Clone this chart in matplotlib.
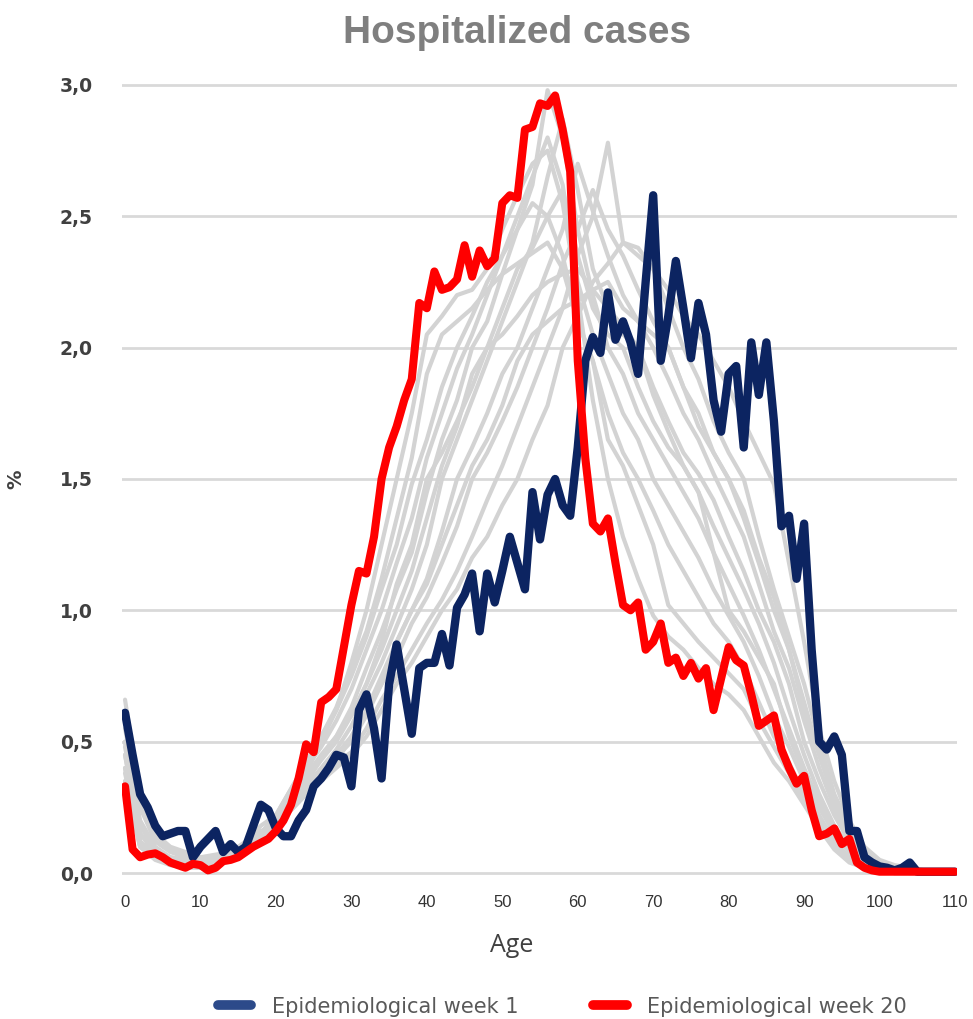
import numpy as np
import matplotlib
matplotlib.use('Agg')
import matplotlib.pyplot as plt
from matplotlib.lines import Line2D
from matplotlib.ticker import FuncFormatter

# Возраст (годы) и доли госпитализированных, %
ages = np.arange(0, 111)

week1 = [0.61, 0.45, 0.30, 0.25, 0.18, 0.14, 0.15, 0.16, 0.16, 0.06,
         0.10, 0.13, 0.16, 0.08, 0.11, 0.08, 0.10, 0.18, 0.26, 0.24,
         0.17, 0.14, 0.14, 0.20, 0.24, 0.33, 0.36, 0.40, 0.45, 0.44,
         0.33, 0.62, 0.68, 0.55, 0.36, 0.72, 0.87, 0.70, 0.53, 0.78,
         0.80, 0.80, 0.91, 0.79, 1.01, 1.06, 1.14, 0.92, 1.14, 1.03,
         1.15, 1.28, 1.18, 1.08, 1.45, 1.27, 1.44, 1.50, 1.40, 1.36,
         1.62, 1.95, 2.04, 1.98, 2.21, 2.03, 2.10, 2.02, 1.90, 2.25,
         2.58, 1.95, 2.12, 2.33, 2.15, 1.96, 2.17, 2.05, 1.80, 1.68,
         1.90, 1.93, 1.62, 2.02, 1.82, 2.02, 1.72, 1.32, 1.36, 1.12,
         1.33, 0.85, 0.50, 0.47, 0.52, 0.45, 0.16, 0.16, 0.06, 0.04,
         0.025, 0.02, 0.01, 0.02, 0.04, 0.005, 0.005, 0.005, 0.005, 0.005, 0.005]

week20 = [0.33, 0.09, 0.06, 0.07, 0.075, 0.06, 0.04, 0.03, 0.02, 0.035,
          0.03, 0.01, 0.02, 0.045, 0.05, 0.06, 0.08, 0.10, 0.115, 0.13,
          0.16, 0.20, 0.26, 0.36, 0.49, 0.46, 0.65, 0.67, 0.70, 0.86,
          1.02, 1.15, 1.14, 1.28, 1.50, 1.62, 1.70, 1.80, 1.88, 2.17,
          2.15, 2.29, 2.22, 2.23, 2.26, 2.39, 2.27, 2.37, 2.31, 2.34,
          2.55, 2.58, 2.57, 2.83, 2.84, 2.93, 2.92, 2.96, 2.83, 2.67,
          1.95, 1.58, 1.33, 1.30, 1.35, 1.18, 1.02, 1.00, 1.03, 0.85,
          0.88, 0.95, 0.80, 0.82, 0.75, 0.80, 0.74, 0.78, 0.62, 0.74,
          0.86, 0.81, 0.79, 0.68, 0.56, 0.58, 0.60, 0.47, 0.40, 0.34,
          0.37, 0.24, 0.14, 0.15, 0.17, 0.11, 0.13, 0.04, 0.02, 0.01,
          0.005, 0.005, 0.005, 0.005, 0.005, 0.005, 0.005, 0.005, 0.005, 0.005, 0.005]

# Промежуточные недели (серые линии), шаг 2 года, значения в сотых долях %
ages_gray = np.arange(0, 111, 2)

gray_weeks = [
    [60, 30, 15, 10, 8, 6, 7, 8, 12, 18,
     22, 25, 30, 35, 40, 45, 52, 62, 72, 80,
     90, 100, 108, 120, 128, 140, 150, 165, 178, 200,
     212, 225, 232, 240, 235, 230, 222, 212, 205, 195,
     185, 172, 160, 148, 118, 88, 55, 35, 20, 10,
     5, 3, 2, 1, 1, 0],
    [55, 25, 12, 8, 6, 5, 6, 7, 10, 15,
     20, 24, 30, 36, 42, 46, 55, 66, 75, 85,
     95, 104, 115, 128, 142, 155, 170, 185, 200, 215,
     235, 250, 278, 240, 238, 230, 215, 200, 188, 172,
     160, 150, 128, 108, 90, 72, 50, 30, 18, 8,
     4, 2, 1, 1, 0, 0],
    [50, 20, 10, 6, 5, 4, 5, 6, 9, 14,
     19, 24, 30, 37, 44, 50, 60, 72, 82, 95,
     105, 118, 132, 150, 160, 172, 185, 200, 215, 232,
     245, 260, 245, 235, 222, 210, 200, 185, 175, 160,
     150, 135, 118, 100, 85, 65, 45, 28, 15, 7,
     3, 2, 1, 0, 0, 0],
    [45, 15, 8, 5, 4, 4, 4, 6, 9, 13,
     18, 24, 31, 38, 45, 52, 62, 75, 88, 100,
     112, 130, 150, 162, 175, 190, 200, 215, 230, 245,
     270, 252, 235, 220, 210, 200, 188, 175, 165, 152,
     140, 128, 110, 92, 78, 58, 40, 25, 13, 6,
     3, 1, 1, 0, 0, 0],
    [40, 12, 7, 5, 4, 3, 4, 5, 8, 12,
     18, 25, 33, 40, 47, 56, 68, 80, 94, 108,
     125, 150, 165, 180, 195, 210, 225, 240, 265, 287,
     260, 230, 215, 208, 200, 185, 172, 160, 152, 142,
     128, 115, 100, 88, 72, 50, 35, 22, 12, 5,
     2, 1, 0, 0, 0, 0],
    [50, 15, 8, 5, 4, 3, 4, 5, 8, 12,
     19, 27, 35, 43, 50, 60, 72, 85, 100, 115,
     135, 155, 170, 190, 200, 215, 230, 238, 250, 260,
     235, 215, 205, 200, 185, 172, 162, 155, 145, 132,
     120, 108, 95, 80, 62, 45, 30, 18, 10, 4,
     2, 1, 0, 0, 0, 0],
    [45, 12, 7, 4, 3, 3, 3, 5, 8, 13,
     20, 28, 37, 45, 52, 63, 78, 92, 108, 122,
     145, 165, 180, 200, 210, 228, 245, 262, 298, 280,
     245, 220, 200, 190, 175, 165, 155, 145, 135, 122,
     110, 98, 85, 70, 55, 40, 27, 16, 8, 4,
     2, 1, 0, 0, 0, 0],
    [40, 10, 6, 4, 3, 2, 3, 5, 9, 14,
     21, 30, 40, 48, 58, 70, 85, 100, 118, 135,
     158, 175, 192, 205, 220, 235, 250, 265, 280, 262,
     225, 205, 190, 175, 165, 150, 140, 130, 120, 108,
     98, 88, 75, 60, 48, 35, 22, 12, 6, 3,
     1, 0, 0, 0, 0, 0],
    [35, 10, 6, 3, 3, 2, 3, 5, 9, 15,
     22, 32, 42, 52, 62, 75, 90, 108, 125, 148,
     165, 185, 200, 212, 225, 235, 245, 255, 250, 235,
     210, 195, 175, 160, 150, 138, 125, 115, 105, 95,
     88, 78, 65, 52, 42, 30, 20, 11, 5, 2,
     1, 0, 0, 0, 0, 0],
    [38, 12, 6, 4, 3, 2, 3, 5, 9, 15,
     22, 32, 42, 52, 63, 78, 92, 112, 135, 158,
     190, 205, 210, 215, 222, 228, 232, 236, 240, 230,
     210, 195, 165, 155, 140, 125, 102, 95, 88, 82,
     76, 70, 58, 48, 38, 28, 18, 10, 5, 2,
     1, 0, 0, 0, 0, 0],
    [48, 18, 9, 6, 5, 4, 4, 6, 9, 13,
     19, 26, 34, 44, 52, 60, 72, 88, 110, 125,
     150, 160, 172, 185, 200, 205, 212, 220, 225, 228,
     230, 222, 215, 205, 200, 182, 168, 155, 145, 122,
     100, 92, 82, 72, 52, 38, 25, 15, 8, 3,
     1, 0, 0, 0, 0, 0],
    [66, 28, 14, 9, 7, 5, 6, 7, 10, 14,
     20, 24, 30, 36, 42, 52, 62, 72, 88, 100,
     110, 125, 140, 155, 165, 178, 195, 205, 210, 215,
     218, 222, 225, 215, 210, 205, 200, 185, 170, 160,
     150, 138, 120, 105, 85, 62, 45, 28, 15, 6,
     3, 1, 0, 0, 0, 0],
    [35, 10, 5, 3, 2, 2, 3, 5, 10, 16,
     18, 26, 38, 50, 62, 80, 100, 125, 150, 175,
     205, 212, 220, 222, 230, 245, 258, 270, 275, 255,
     220, 180, 150, 128, 112, 98, 90, 85, 78, 72,
     68, 62, 52, 42, 35, 26, 17, 9, 4, 2,
     1, 0, 0, 0, 0, 0],
]

x_ticks = list(range(0, 111, 10))
y_ticks = [0.0, 0.5, 1.0, 1.5, 2.0, 2.5, 3.0]

fig = plt.figure(figsize=(9.73, 10.19), dpi=100)
ax = fig.add_axes([0.1254, 0.1381, 0.8582, 0.7837])

# Сетка и оси
ax.set_xlim(-0.4, 110.27)
ax.set_ylim(-0.02, 3.02)
ax.set_yticks(y_ticks)
ax.set_xticks(x_ticks)
ax.yaxis.grid(True, color='#d9d9d9', linewidth=2)
ax.set_axisbelow(True)
for s in ax.spines.values():
    s.set_visible(False)
ax.tick_params(length=0)
ax.tick_params(axis='y', pad=21, labelsize=13.5, labelcolor='#404040')
ax.tick_params(axis='x', pad=12, labelsize=12, labelcolor='#333333')
ax.yaxis.set_major_formatter(FuncFormatter(lambda v, p: f'{v:.1f}'.replace('.', ',')))
for lbl in ax.get_yticklabels():
    lbl.set_fontweight('bold')
    lbl.set_family('DejaVu Sans')
for lbl in ax.get_xticklabels():
    lbl.set_family('Liberation Sans')

# Серые линии промежуточных недель
for g in gray_weeks:
    ax.plot(ages_gray, np.array(g) / 100, color='#d3d3d3', linewidth=3,
            solid_joinstyle='round', solid_capstyle='round')

ax.plot(ages, week1, color='#0c2461', linewidth=6, solid_joinstyle='round',
        solid_capstyle='round')
ax.plot(ages, week20, color='#ff0000', linewidth=5.8, solid_joinstyle='round',
        solid_capstyle='round')

ax.set_ylabel('%', rotation=90, fontsize=14, color='#404040', fontweight='bold',
              family='DejaVu Sans')
ax.yaxis.set_label_coords(-0.116, 0.5)

fig.text(0.531, 0.968, 'Hospitalized cases', ha='center', va='center',
         fontsize=28, fontweight='bold', color='#7f7f7f', family='Liberation Sans')
fig.text(512 / 973, 1 - 945 / 1019, 'Age', ha='center', va='center',
         fontsize=18, color='#404040', family='Open Sans')

handles = [Line2D([], [], color='#2c4a8a', linewidth=7, solid_capstyle='round'),
           Line2D([], [], color='#ff0000', linewidth=7, solid_capstyle='round')]
fig.legend(handles, ['Epidemiological week 1', 'Epidemiological week 20'],
           loc='center', bbox_to_anchor=(0.578, 0.012), ncol=2, frameon=False,
           prop={'family': 'DejaVu Sans', 'size': 15},
           labelcolor='#595959', handlelength=1.6, handletextpad=1.0,
           columnspacing=3.6)

plt.savefig('out.png', dpi=100)
